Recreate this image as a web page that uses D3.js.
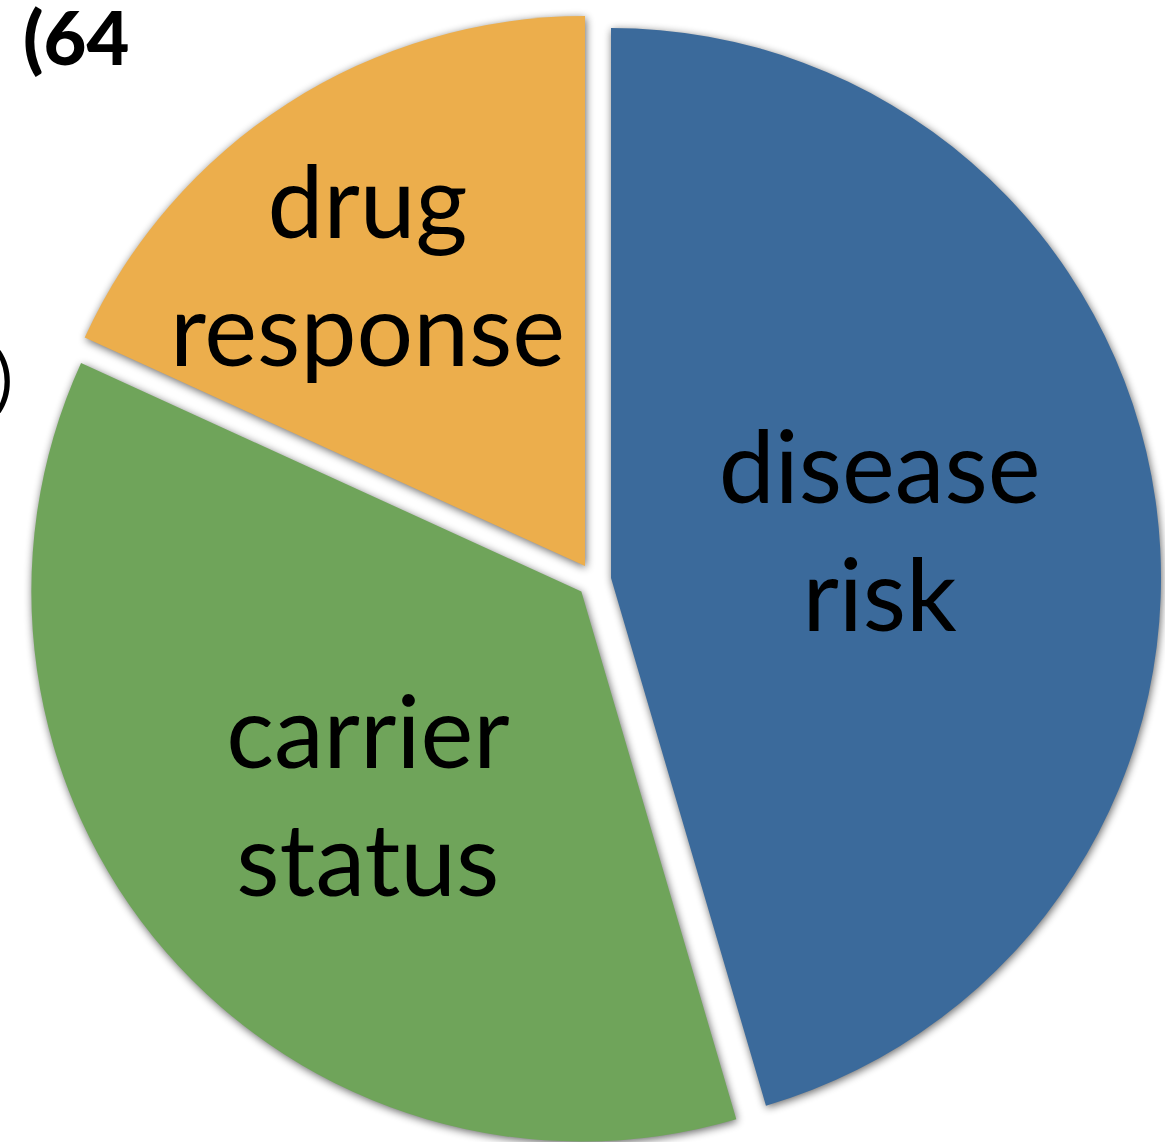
<!DOCTYPE html>
<html>
<head>
<meta charset="utf-8">
<script src="https://cdn.jsdelivr.net/npm/d3@7"></script>
<style>
  html, body { margin: 0; padding: 0; background: #ffffff; overflow: hidden; }
  svg { display: block; }
  text { font-family: "Lato", "Open Sans", sans-serif; }
</style>
</head>
<body>
<svg id="chart" width="1165" height="1142"></svg>
<script>
// ---- data ----
const categories = ["disease risk", "carrier status", "drug response"];
const values = [45.5, 36.4, 18.2];
const labelLines = [["disease", "risk"], ["carrier", "status"], ["drug", "response"]];
const colors = ["#3B6A9B", "#6FA45A", "#ECAE4C"];
const fragmentTexts = ["(64", ")"];

// ---- layout ----
const W = 1165, H = 1142;
const cx = 594.2, cy = 580.4, radius = 550, explode = 17;
const labelRadius = [271, 303, 362];
const labelAngleOffsetDeg = [0.6, -4.3, -4.2];
const fontSize = 100, lineH = 128, xHalf = 25;

const svg = d3.select("#chart");

const defs = svg.append("defs");
const f = defs.append("filter").attr("id", "shadow")
  .attr("x", "-10%").attr("y", "-10%").attr("width", "120%").attr("height", "120%");
f.append("feGaussianBlur").attr("in", "SourceAlpha").attr("stdDeviation", 4.5).attr("result", "b");
f.append("feOffset").attr("in", "b").attr("dx", 1).attr("dy", 1.5).attr("result", "o");
f.append("feComponentTransfer").attr("in", "o")
  .append("feFuncA").attr("type", "linear").attr("slope", 0.6);

const pie = d3.pie().sort(null).value(d => d);
const arcs = pie(values);
const arcGen = d3.arc().innerRadius(0).outerRadius(radius);

function apex(d) {
  const mid = (d.startAngle + d.endAngle) / 2;
  return [cx + explode * Math.sin(mid), cy - explode * Math.cos(mid)];
}

// shadows first
svg.append("g").selectAll("path.sh").data(arcs).join("path")
  .attr("class", "sh")
  .attr("d", arcGen)
  .attr("transform", d => `translate(${apex(d)})`)
  .attr("fill", "#000")
  .attr("filter", "url(#shadow)");

// fills
svg.append("g").selectAll("path.slice").data(arcs).join("path")
  .attr("class", "slice")
  .attr("d", arcGen)
  .attr("transform", d => `translate(${apex(d)})`)
  .attr("fill", (d, i) => colors[i]);

// labels
const lg = svg.append("g");
arcs.forEach((d, i) => {
  const [ax, ay] = apex(d);
  const a = (d.startAngle + d.endAngle) / 2 + labelAngleOffsetDeg[i] * Math.PI / 180;
  const lx = ax + labelRadius[i] * Math.sin(a);
  const ly = ay - labelRadius[i] * Math.cos(a);
  const lines = labelLines[i];
  const t = lg.append("text")
    .attr("text-anchor", "middle")
    .attr("font-size", fontSize)
    .attr("fill", "#000");
  lines.forEach((ln, k) => {
    t.append("tspan")
      .attr("x", lx)
      .attr("y", ly + xHalf + (k - (lines.length - 1) / 2) * lineH)
      .text(ln);
  });
});

// clipped text fragments from the surrounding slide
svg.append("text").attr("x", 23).attr("y", 65)
  .attr("font-size", 74).attr("font-weight", 900).attr("fill", "#000")
  .text(fragmentTexts[0]);
svg.append("text").attr("x", 13).attr("y", 403).attr("text-anchor", "end")
  .attr("font-size", 68).attr("fill", "#000")
  .text(fragmentTexts[1]);
</script>
</body>
</html>
